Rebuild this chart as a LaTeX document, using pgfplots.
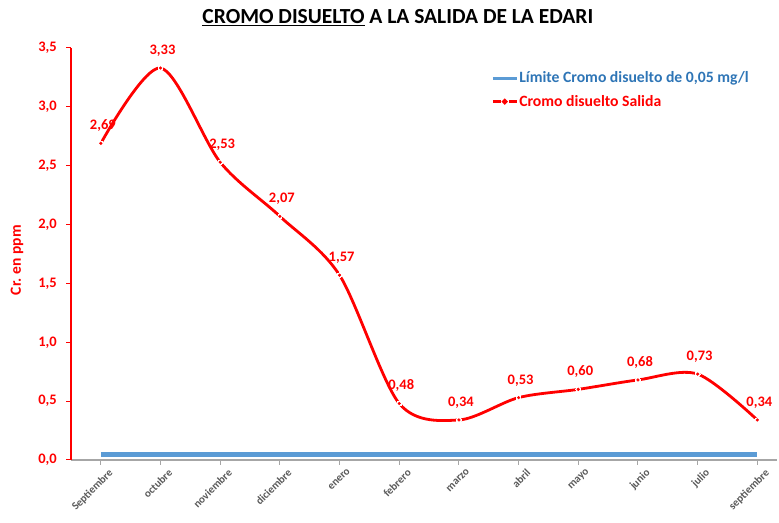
\documentclass[border=0pt]{standalone}
\usepackage{fontspec}
\setmainfont{Carlito}
\usepackage{pgfplots}
\pgfplotsset{compat=1.18}
\definecolor{cred}{HTML}{FF0000}
\definecolor{cblue}{HTML}{5B9BD5}
\definecolor{cbluetxt}{HTML}{2E75B6}
\definecolor{cgray}{HTML}{595959}
\definecolor{caxis}{HTML}{A6A6A6}
\pgfplotstableread{
x y
0 2.69
1 3.33
2 2.53
3 2.07
4 1.57
5 0.48
6 0.34
7 0.53
8 0.60
9 0.68
10 0.73
11 0.34
}\cromo
\pgfplotstableread{
x y
0 0.05
11 0.05
}\limite
\begin{document}
\begin{tikzpicture}
\begin{axis}[
 scale only axis, width=706pt, height=412pt,
 xmin=-0.5, xmax=11.33, ymin=0, ymax=3.5,
 axis x line*=bottom, axis y line*=left,
 x axis line style={caxis, line width=1.5pt},
 y axis line style={cred, line width=1.5pt},
 xtick={0,...,11},
 xticklabels={Septiembre, octubre, noviembre, diciembre, enero, febrero, marzo, abril, mayo, junio, julio, septiembre},
 x tick label style={rotate=45, anchor=north east, font=\bfseries\fontsize{11}{12}\selectfont, text=cgray, inner sep=0pt, yshift=-7pt, xshift=3pt},
 ytick={0,0.5,1,1.5,2,2.5,3,3.5},
 yticklabel style={font=\bfseries\fontsize{14.5}{16}\selectfont, text=cred, inner sep=0pt, xshift=-9pt, /pgf/number format/.cd, fixed, fixed zerofill, precision=1, use comma, assume math mode=true},
 tick align=outside, major tick length=5pt,
 x tick style={caxis, line width=1pt}, y tick style={cred, line width=1pt},
 clip=false,
 legend style={draw=none, fill=none, at={(rel axis cs:0.595,0.945)}, anchor=north west, font=\bfseries\fontsize{15.7}{17}\selectfont, row sep=9pt, inner sep=0pt, nodes={inner sep=1pt}},
 legend cell align=left,
]
\addplot[cblue, line width=5pt, legend image code/.code={\draw[cblue, line width=3pt] (0pt,0pt) -- (24pt,0pt);}] table[x=x,y=y] {\limite};
\addlegendentry{\textcolor{cbluetxt}{Límite Cromo disuelto de 0,05 mg/l}}
\addplot[cred, line width=2.8pt, smooth, tension=0.5, mark=*, mark size=2.4pt, mark options={solid, draw=white, fill=white, line width=0pt},
 legend image code/.code={\draw[cred, line width=2.8pt] (0pt,0pt) -- (8pt,0pt); \draw[cred, line width=2.8pt] (16pt,0pt) -- (24pt,0pt); \fill[cred] (12pt,0pt) circle (1.3pt);}] table[x=x,y=y] {\cromo};
\addlegendentry{\textcolor{cred}{Cromo disuelto Salida}}
\addplot[cred, color=cred, only marks, mark=*, mark size=1.4pt, mark options={draw=none, fill=cred, color=cred}, forget plot,
 nodes near coords={\pgfmathprintnumber[fixed, fixed zerofill, precision=2, use comma, assume math mode=true]{\pgfplotspointmeta}},
 every node near coord/.append style={font=\bfseries\fontsize{14.5}{16}\selectfont, text=cred, anchor=south, yshift=8pt, xshift=2pt}] table[x=x,y=y] {\cromo};
\coordinate (O) at (rel axis cs:0,0);
\coordinate (T) at (rel axis cs:1,1);
\node[font=\bfseries\fontsize{15.5}{18}\selectfont, text=cred, rotate=90, anchor=center] at ([xshift=-54pt]rel axis cs:0,0.485) {\textcolor{cred}{Cr. en ppm}};
\node[font=\bfseries\fontsize{21.5}{24}\selectfont, anchor=center] at ([yshift=30pt]rel axis cs:0.463,1) {\underline{CROMO DISUELTO} A LA SALIDA DE LA EDARI};
\end{axis}
\path ([xshift=-71pt,yshift=-63pt]O) rectangle ([xshift=2pt,yshift=48pt]T);
\end{tikzpicture}
\end{document}
